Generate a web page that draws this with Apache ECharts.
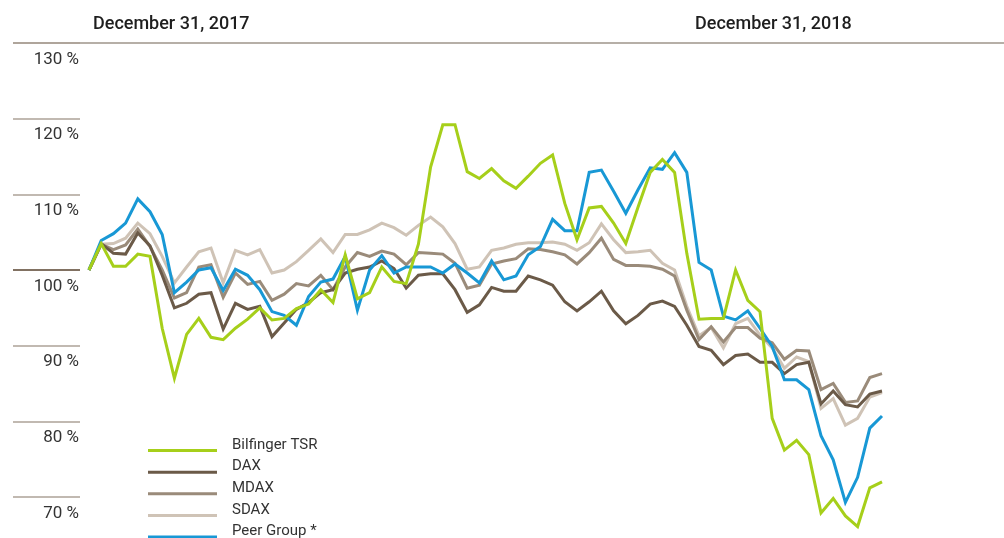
<!DOCTYPE html>
<html><head><meta charset="utf-8">
<script src="https://cdn.jsdelivr.net/npm/echarts@6/dist/echarts.min.js"></script>
<style>html,body{margin:0;padding:0;background:#fff}#c{width:1004px;height:538px}</style>
</head><body><div id="c"></div>
<script>
const seriesNames = ['Bilfinger TSR', 'DAX', 'MDAX', 'SDAX', 'Peer Group *'];
const bilfinger = [100.0,103.5,100.5,100.5,102.1,101.8,92.3,85.7,91.5,93.6,91.1,90.8,92.3,93.5,95.0,93.4,93.6,94.9,95.5,97.4,95.7,102.0,96.2,97.0,100.4,98.5,98.2,103.4,113.6,119.2,119.2,113.0,112.1,113.4,111.8,110.8,112.4,114.1,115.2,108.8,104.0,108.2,108.4,106.2,103.5,108.3,112.9,114.6,112.9,102.2,93.5,93.6,93.6,100.0,96.0,94.5,80.4,76.2,77.5,75.6,67.9,69.8,67.5,66.1,71.2,72.0];
const dax = [100.0,103.5,102.2,102.1,104.9,103.2,99.3,95.0,95.6,96.8,97.0,92.2,95.6,94.8,95.2,91.2,93.0,94.8,95.7,97.0,97.4,99.6,100.1,100.4,101.2,100.2,97.6,99.3,99.5,99.5,97.4,94.4,95.4,97.7,97.2,97.2,99.2,98.7,98.0,95.8,94.6,95.8,97.2,94.6,92.9,94.0,95.5,95.9,95.2,92.7,89.9,89.4,87.5,88.7,88.9,87.8,87.8,86.3,87.5,87.8,82.3,84.0,82.2,81.9,83.6,84.0];
const mdax = [100.0,103.4,102.7,103.3,105.4,103.1,100.0,96.3,97.0,100.4,100.7,96.4,99.6,98.1,98.5,96.0,96.8,98.2,97.9,99.3,97.4,100.4,102.3,101.8,102.5,102.1,100.7,102.3,102.2,102.1,100.9,97.6,98.0,100.8,101.2,101.5,102.8,102.7,102.4,102.0,100.8,102.3,104.2,101.4,100.6,100.6,100.5,100.1,99.2,94.7,90.8,92.5,90.5,92.4,92.4,91.0,90.4,88.2,89.4,89.3,84.2,85.0,82.5,82.7,85.8,86.3];
const sdax = [100.0,103.4,103.5,104.2,106.2,104.8,101.8,98.3,100.4,102.4,102.9,98.3,102.6,102.0,102.7,99.6,100.0,101.1,102.6,104.1,102.3,104.7,104.7,105.3,106.2,105.6,104.6,105.9,107.0,105.7,103.5,100.1,100.4,102.6,102.9,103.4,103.6,103.6,103.7,103.4,102.6,103.6,106.1,104.0,102.3,102.4,102.6,100.9,100.0,95.2,91.3,92.4,89.7,92.9,93.6,91.4,89.7,87.0,88.5,87.9,81.7,83.0,79.5,80.4,83.2,83.8];
const peerGroup = [100.0,103.9,104.8,106.2,109.4,107.7,104.7,97.0,98.4,100.0,100.3,97.3,100.1,99.3,97.4,94.5,94.0,92.7,96.5,98.4,98.8,101.8,94.7,100.0,101.9,99.6,100.4,100.4,100.4,99.6,100.8,99.6,98.3,101.2,98.7,99.2,102.0,103.1,106.7,105.2,105.2,112.9,113.2,110.4,107.5,110.6,113.5,113.3,115.5,112.9,101.0,100.0,93.9,93.4,94.6,92.3,89.9,85.5,85.5,84.2,78.1,74.9,69.3,72.6,79.1,80.7];
const yTicks = [70, 80, 90, 100, 110, 120, 130];
const headerLabels = ['December 31, 2017', 'December 31, 2018'];
const yearStartIndex = 0;
const yearEndIndex = 62.43;   // position of Dec 31, 2018 between weekly observations
const markerRange = [108.9, 64.6];

const FONT = "Roboto, 'Noto Sans', sans-serif";
const colors = {
  'Bilfinger TSR': '#a6cf1a',
  'DAX': '#6b5a48',
  'MDAX': '#9a8b7a',
  'SDAX': '#cfc3b6',
  'Peer Group *': '#1898d5'
};
const dataByName = {
  'Bilfinger TSR': bilfinger, 'DAX': dax, 'MDAX': mdax, 'SDAX': sdax, 'Peer Group *': peerGroup
};
const drawOrder = ['SDAX', 'MDAX', 'DAX', 'Peer Group *', 'Bilfinger TSR'];

const chart = echarts.init(document.getElementById('c'), null, {renderer: 'canvas'});

const series = drawOrder.map((name, k) => {
  const s = {
    name, type: 'line', showSymbol: false, symbol: 'none', clip: false,
    data: dataByName[name].map((v, i) => [i, v]),
    lineStyle: {width: 3, color: colors[name], join: 'miter'},
    itemStyle: {color: colors[name]},
    z: 2 + k, animation: false
  };
  if (name === 'DAX') {
    s.markLine = {
      silent: true, symbol: ['none', 'none'], animation: false,
      label: {show: false},
      lineStyle: {color: '#6b5a48', width: 2.5, type: [3, 3]},
      data: [[{coord: [yearEndIndex, markerRange[0]]}, {coord: [yearEndIndex, markerRange[1]]}]]
    };
  }
  return s;
});

const yBase = {
  type: 'value', position: 'left', offset: 9, min: yTicks[0], max: yTicks[yTicks.length - 1], interval: 10,
  axisLine: {show: false, onZero: false}, splitLine: {show: false}
};

const option = {
  animation: false,
  backgroundColor: '#fff',
  grid: {left: 89, right: 122, top: 43, bottom: 41},
  xAxis: {type: 'value', min: 0, max: bilfinger.length - 1, show: false},
  yAxis: [
    Object.assign({}, yBase, {
      axisTick: {show: true, length: 67, lineStyle: {color: '#ada398', width: 1.5}},
      axisLabel: {formatter: v => v + ' %', fontFamily: FONT, fontSize: 17, color: '#333',
        margin: 1, verticalAlign: 'top', padding: [8, 0, 0, 0]}
    }),
    Object.assign({}, yBase, {
      axisLabel: {show: false},
      axisTick: {show: true, length: 67, customValues: [100], lineStyle: {color: '#6b5a48', width: 1.5}}
    })
  ],
  legend: {
    data: seriesNames, orient: 'vertical', left: 148, top: 437.5, height: 140, padding: 0,
    itemWidth: 69, itemHeight: 14, itemGap: 6.65, selectedMode: false,
    icon: 'path://M0,0h0.01M0,11h69v3h-69z',
    itemStyle: {borderWidth: 0},
    textStyle: {fontFamily: FONT, fontSize: 15, color: '#333', lineHeight: 14, padding: [0, 0, 0, 10]}
  },
  series
};
chart.setOption(option);

const x0 = chart.convertToPixel({xAxisIndex: 0}, yearStartIndex);
const x1 = chart.convertToPixel({xAxisIndex: 0}, yearEndIndex);
chart.setOption({
  graphic: [
    {type: 'line', shape: {x1: 13, y1: 43, x2: 1004, y2: 43}, style: {stroke: '#9e948a', lineWidth: 1.5}, silent: true},
    {type: 'text', x: x0 + 4, y: 24, style: {text: headerLabels[0], font: '500 18px ' + FONT, fill: '#1e1e1e', textAlign: 'left', textVerticalAlign: 'middle'}},
    {type: 'text', x: x1 + 1, y: 24, style: {text: headerLabels[1], font: '500 18px ' + FONT, fill: '#1e1e1e', textAlign: 'right', textVerticalAlign: 'middle'}}
  ]
});
</script></body></html>
